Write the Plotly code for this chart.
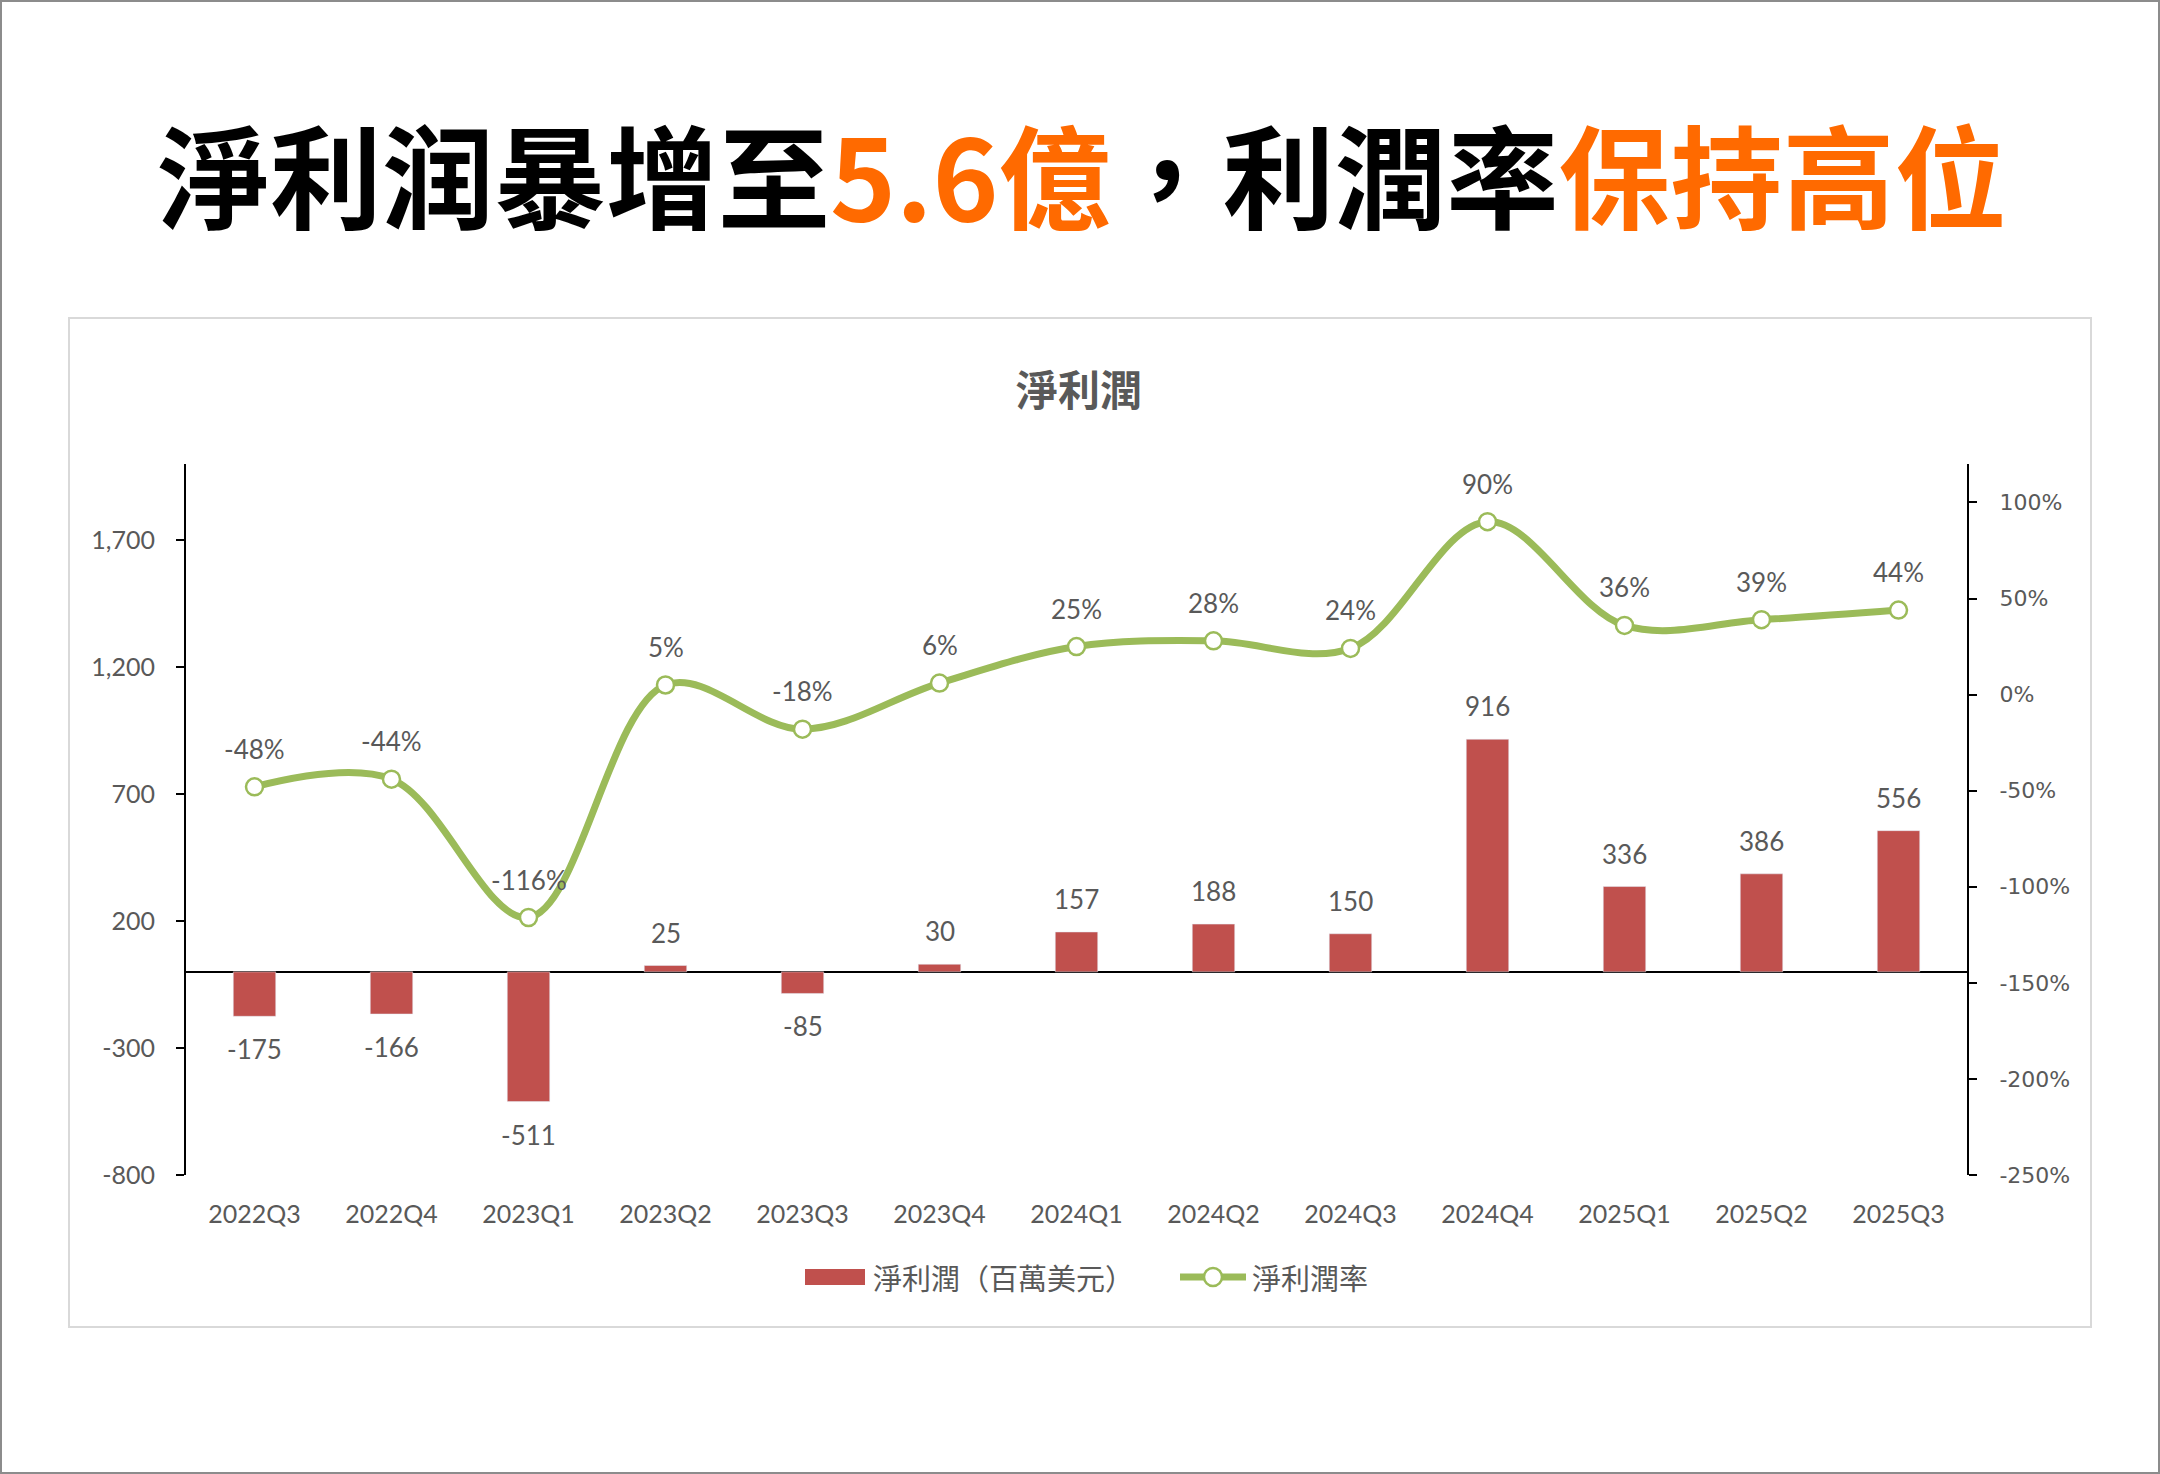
import plotly.graph_objects as go

categories = ["2022Q3", "2022Q4", "2023Q1", "2023Q2", "2023Q3", "2023Q4", "2024Q1",
              "2024Q2", "2024Q3", "2024Q4", "2025Q1", "2025Q2", "2025Q3"]
net_profit = [-175, -166, -511, 25, -85, 30, 157, 188, 150, 916, 336, 386, 556]
net_margin_pct = [-48, -44, -116, 5, -18, 6, 25, 28, 24, 90, 36, 39, 44]
net_margin = [v / 100 for v in net_margin_pct]

left_ticks = [-800, -300, 200, 700, 1200, 1700]
right_ticks_pct = [-250, -200, -150, -100, -50, 0, 50, 100]

bar_name = "淨利潤（百萬美元）"
line_name = "淨利潤率"
chart_title = "淨利潤"

BAR_C = "#C0504D"
LINE_C = "#9BBB59"
TXT_C = "#595959"
ORANGE = "#FF6A00"
CJK = "Noto Sans CJK TC"
LAT = "Lato"

W, H = 2160, 1474
L, R, T, B = 186, 1967, 464, 1175
pw, ph = R - L, B - T


def px(x):
    return (x - L) / pw


def py(y):
    return 1 - (y - T) / ph


fig = go.Figure()
fig.add_trace(go.Bar(x=categories, y=net_profit, name=bar_name, marker_color=BAR_C,
                     hoverinfo="skip", showlegend=False))
fig.add_trace(go.Scatter(x=categories, y=net_margin, name=line_name, yaxis="y2",
                         mode="lines+markers",
                         line=dict(color=LINE_C, width=7, shape="spline", smoothing=1.0),
                         marker=dict(size=17, color="white", line=dict(color=LINE_C, width=2.5)),
                         hoverinfo="skip", showlegend=False))

annotations = []
for c, v in zip(categories, net_profit):
    annotations.append(dict(x=c, y=v, xref="x", yref="y", text=f"{v:,}", showarrow=False,
                            yshift=33 if v >= 0 else -33,
                            font=dict(family=LAT, size=26, color=TXT_C)))
for c, v, p in zip(categories, net_margin, net_margin_pct):
    annotations.append(dict(x=c, y=v, xref="x", yref="y2", text=f"{p}%", showarrow=False,
                            yshift=38, font=dict(family=LAT, size=26, color=TXT_C)))

# main headline
annotations.append(dict(
    xref="paper", yref="paper", x=px(1082), y=py(172), xanchor="center", yanchor="middle",
    showarrow=False,
    text=("<b>淨利润暴增至</b><b><span style='color:%s'>5.6億</span></b><b>，利潤率</b>"
          "<b><span style='color:%s'>保持高位</span></b>") % (ORANGE, ORANGE),
    font=dict(family=CJK, size=112, color="black", weight=900)))
# chart title
annotations.append(dict(
    xref="paper", yref="paper", x=px(1079), y=py(387), xanchor="center", yanchor="middle",
    showarrow=False, text="<b>%s</b>" % chart_title,
    font=dict(family=CJK, size=42, color=TXT_C)))

# manual legend
LEG_Y = 1277
annotations.append(dict(xref="paper", yref="paper", x=px(871), y=py(LEG_Y), xanchor="left",
                        yanchor="middle", showarrow=False, text=bar_name,
                        font=dict(family=CJK, size=29, color=TXT_C)))
annotations.append(dict(xref="paper", yref="paper", x=px(1250), y=py(LEG_Y), xanchor="left",
                        yanchor="middle", showarrow=False, text=line_name,
                        font=dict(family=CJK, size=29, color=TXT_C)))

shapes = [
    dict(type="rect", xref="paper", yref="paper", x0=px(1), x1=px(2159), y0=py(1), y1=py(1473),
         line=dict(color="#8c8c8c", width=2), layer="below"),
    dict(type="rect", xref="paper", yref="paper", x0=px(69), x1=px(2091), y0=py(318), y1=py(1327),
         line=dict(color="#d9d9d9", width=2), layer="below"),
    # legend swatches
    dict(type="rect", xref="paper", yref="paper", x0=px(805), x1=px(865),
         y0=py(LEG_Y - 8), y1=py(LEG_Y + 8), fillcolor=BAR_C, line=dict(width=0)),
    dict(type="line", xref="paper", yref="paper", x0=px(1180), x1=px(1246),
         y0=py(LEG_Y), y1=py(LEG_Y), line=dict(color=LINE_C, width=7)),
    dict(type="circle", xref="paper", yref="paper", x0=px(1204), x1=px(1222),
         y0=py(LEG_Y - 9), y1=py(LEG_Y + 9), fillcolor="white",
         line=dict(color=LINE_C, width=2.5)),
]

fig.update_layout(
    width=W, height=H,
    margin=dict(l=L, r=W - R, t=T, b=H - B, pad=0),
    paper_bgcolor="white", plot_bgcolor="white",
    bargap=0.69,
    showlegend=False,
    xaxis=dict(type="category", range=[-0.5, len(categories) - 0.5], showline=False, ticks="",
               showgrid=False, zeroline=False,
               tickfont=dict(family=LAT, size=25, color=TXT_C), ticklabelstandoff=22),
    yaxis=dict(range=[-800, 2000], tickmode="array", tickvals=left_ticks,
               ticktext=[f"{v:,}" for v in left_ticks], showgrid=False,
               zeroline=True, zerolinecolor="black", zerolinewidth=2,
               showline=True, linecolor="black", linewidth=2,
               ticks="outside", ticklen=8, tickwidth=2, tickcolor="black",
               tickfont=dict(family=LAT, size=25, color=TXT_C), ticklabelstandoff=16),
    yaxis2=dict(range=[-2.5, 1.2], tickmode="array", tickvals=[v / 100 for v in right_ticks_pct],
                ticktext=[f"{v}%" for v in right_ticks_pct], overlaying="y",
                side="right", showgrid=False, zeroline=False,
                showline=True, linecolor="black", linewidth=2,
                ticks="outside", ticklen=8, tickwidth=2, tickcolor="black",
                tickfont=dict(family="DejaVu Sans", size=22, color=TXT_C), ticklabelstandoff=18),
    annotations=annotations,
    shapes=shapes,
)

fig.write_html("out.html")
